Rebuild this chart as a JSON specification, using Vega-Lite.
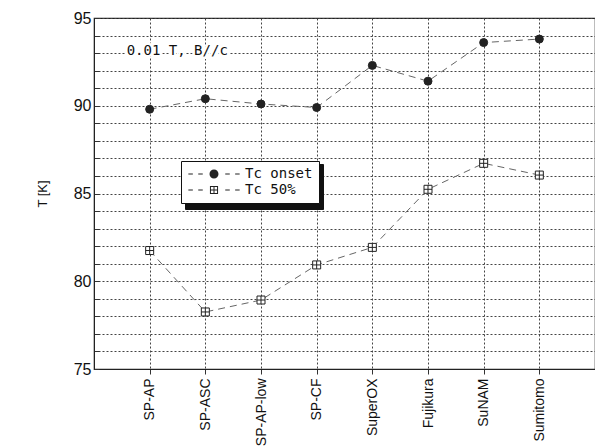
{
  "$schema": "https://vega.github.io/schema/vega-lite/v6.json",
  "width": 501,
  "height": 351,
  "autosize": {"type": "none"},
  "padding": {"left": 94, "top": 18, "right": 0, "bottom": 79},
  "background": "white",
  "config": {
    "view": {"stroke": "#222", "strokeWidth": 1.2},
    "font": "Liberation Sans",
    "axisX": {
      "title": null, "labelAngle": 270, "labelFontSize": 14, "labelColor": "#111",
      "labelPadding": 4, "ticks": true, "tickSize": 5, "tickColor": "#333",
      "grid": true, "gridDash": [2, 2], "gridColor": "#444", "gridWidth": 1,
      "domain": true, "domainColor": "#222"
    },
    "axisY": {
      "titleFontSize": 13, "titleFontWeight": "normal", "titleColor": "#111", "titlePadding": 24,
      "labelFontSize": 16, "labelColor": "#111", "labelPadding": 8, "labelOverlap": false,
      "ticks": true, "tickSize": -5, "tickColor": "#333",
      "grid": true, "gridDash": [2, 2], "gridColor": "#444", "gridWidth": 1,
      "domain": true, "domainColor": "#222"
    }
  },
  "data": {
    "values": [
      {"wire": "SP-AP", "series": "Tc onset", "T": 89.8},
      {"wire": "SP-ASC", "series": "Tc onset", "T": 90.4},
      {"wire": "SP-AP-low", "series": "Tc onset", "T": 90.1},
      {"wire": "SP-CF", "series": "Tc onset", "T": 89.9},
      {"wire": "SuperOX", "series": "Tc onset", "T": 92.3},
      {"wire": "Fujikura", "series": "Tc onset", "T": 91.4},
      {"wire": "SuNAM", "series": "Tc onset", "T": 93.6},
      {"wire": "Sumitomo", "series": "Tc onset", "T": 93.8},
      {"wire": "SP-AP", "series": "Tc 50%", "T": 81.75},
      {"wire": "SP-ASC", "series": "Tc 50%", "T": 78.25},
      {"wire": "SP-AP-low", "series": "Tc 50%", "T": 78.93},
      {"wire": "SP-CF", "series": "Tc 50%", "T": 80.93},
      {"wire": "SuperOX", "series": "Tc 50%", "T": 81.93},
      {"wire": "Fujikura", "series": "Tc 50%", "T": 85.24},
      {"wire": "SuNAM", "series": "Tc 50%", "T": 86.72},
      {"wire": "Sumitomo", "series": "Tc 50%", "T": 86.05}
    ]
  },
  "layer": [
    {
      "mark": {"type": "line", "stroke": "#666", "strokeWidth": 1, "strokeDash": [7, 5]},
      "encoding": {
        "x": {
          "field": "wire", "type": "ordinal",
          "scale": {"type": "point", "padding": 1, "domain": ["SP-AP", "SP-ASC", "SP-AP-low", "SP-CF", "SuperOX", "Fujikura", "SuNAM", "Sumitomo"]},
          "axis": {"title": null}
        },
        "y": {
          "field": "T", "type": "quantitative",
          "scale": {"domain": [75, 95], "nice": false, "zero": false},
          "axis": {
            "title": "T [K]",
            "values": [75,76,77,78,79,80,81,82,83,84,85,86,87,88,89,90,91,92,93,94,95],
            "labelExpr": "datum.value % 5 === 0 ? datum.label : ''"
          }
        },
        "detail": {"field": "series"}
      }
    },
    {
      "mark": {"type": "point", "opacity": 1, "stroke": "#222", "strokeWidth": 1},
      "encoding": {
        "x": {"field": "wire", "type": "ordinal", "axis": {"title": null}},
        "y": {"field": "T", "type": "quantitative", "axis": {
            "title": "T [K]",
            "values": [75,76,77,78,79,80,81,82,83,84,85,86,87,88,89,90,91,92,93,94,95],
            "labelExpr": "datum.value % 5 === 0 ? datum.label : ''"
          }},
        "shape": {
          "field": "series", "type": "nominal", "legend": null,
          "scale": {"domain": ["Tc onset", "Tc 50%"], "range": ["circle", "M-1,-1H1V1H-1Z M0,-1V1 M-1,0H1"]}
        },
        "fill": {
          "field": "series", "type": "nominal",
          "scale": {"domain": ["Tc 50%", "Tc onset"], "range": ["white", "#222"]},
          "legend": {
            "title": null, "orient": "none", "legendX": 91, "legendY": 146,
            "fillColor": "#111", "strokeColor": "#111", "cornerRadius": 0,
            "padding": 6, "symbolOffset": 20, "labelOffset": 24, "rowPadding": 2,
            "labelFont": "DejaVu Sans Mono", "labelFontSize": 14, "labelColor": "rgba(0,0,0,0)",
            "symbolSize": 81
          }
        },
        "size": {"value": 64}
      }
    },
    {
      "data": {"values": [{"label": "0.01 T, B//c", "wire": "SP-AP", "T": 93.1}]},
      "mark": {"type": "text", "align": "left", "baseline": "middle", "dx": -23, "font": "DejaVu Sans Mono", "fontSize": 14, "stroke": "white", "strokeWidth": 5, "fill": "white"},
      "encoding": {
        "x": {"field": "wire", "type": "ordinal", "axis": {"title": null}},
        "y": {"field": "T", "type": "quantitative", "axis": {
            "title": "T [K]",
            "values": [75,76,77,78,79,80,81,82,83,84,85,86,87,88,89,90,91,92,93,94,95],
            "labelExpr": "datum.value % 5 === 0 ? datum.label : ''"
          }},
        "text": {"field": "label"}
      }
    },
    {
      "data": {"values": [{"label": "0.01 T, B//c", "wire": "SP-AP", "T": 93.1}]},
      "mark": {"type": "text", "align": "left", "baseline": "middle", "dx": -23, "font": "DejaVu Sans Mono", "fontSize": 14, "fill": "#111"},
      "encoding": {
        "x": {"field": "wire", "type": "ordinal", "axis": {"title": null}},
        "y": {"field": "T", "type": "quantitative", "axis": {
            "title": "T [K]",
            "values": [75,76,77,78,79,80,81,82,83,84,85,86,87,88,89,90,91,92,93,94,95],
            "labelExpr": "datum.value % 5 === 0 ? datum.label : ''"
          }},
        "text": {"field": "label"}
      }
    },
    {
      "mark": {"type": "point", "opacity": 0, "filled": true, "color": "#222"},
      "encoding": {
        "x": {"field": "wire", "type": "ordinal", "axis": {"title": null}},
        "y": {"field": "T", "type": "quantitative", "axis": {
            "title": "T [K]",
            "values": [75,76,77,78,79,80,81,82,83,84,85,86,87,88,89,90,91,92,93,94,95],
            "labelExpr": "datum.value % 5 === 0 ? datum.label : ''"
          }},
        "shape": {
          "field": "series", "type": "nominal",
          "scale": {"domain": ["Tc onset", "Tc 50%"], "range": [
            "M-5.7,-0.11H-4.7V0.11H-5.7Z M-3.5,-0.11H-2.5V0.11H-3.5Z M2.5,-0.11H3.5V0.11H2.5Z M4.7,-0.11H5.7V0.11H4.7Z M-1,0A1,1,0,1,1,1,0A1,1,0,1,1,-1,0Z",
            "M-5.7,-0.11H-4.7V0.11H-5.7Z M-3.5,-0.11H-2.5V0.11H-3.5Z M2.5,-0.11H3.5V0.11H2.5Z M4.7,-0.11H5.7V0.11H4.7Z M-0.9,-0.9H0.9V0.9H-0.9Z M-0.68,-0.68V0.68H0.68V-0.68Z M-0.11,-0.68H0.11V0.68H-0.11Z M-0.68,-0.11H0.68V0.11H-0.68Z"
          ]},
          "legend": {
            "title": null, "orient": "none", "legendX": 87, "legendY": 143,
            "fillColor": "white", "strokeColor": "#111", "cornerRadius": 0,
            "padding": 6, "symbolOffset": 20, "labelOffset": 24, "rowPadding": 2,
            "labelFont": "DejaVu Sans Mono", "labelFontSize": 14, "labelColor": "#111",
            "symbolSize": 81, "symbolFillColor": "#222", "symbolStrokeWidth": 0, "symbolOpacity": 1
          }
        },
        "size": {"value": 81}
      }
    }
  ],
  "resolve": {"scale": {"shape": "independent", "fill": "independent"}}
}
